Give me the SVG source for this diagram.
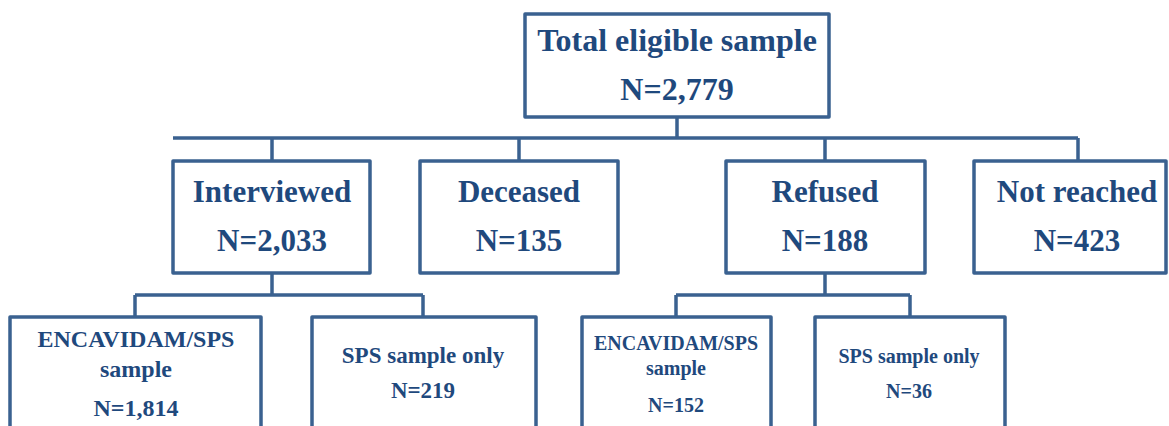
<svg xmlns="http://www.w3.org/2000/svg" width="1169" height="426" viewBox="0 0 1169 426">
  <style>
    .box { fill: #ffffff; stroke: #3a6190; stroke-width: 3.5; stroke-linejoin: round; }
    .link { fill: none; stroke: #3a6190; stroke-width: 3.5; stroke-linejoin: round; }
    text { font-family: "Liberation Serif", "Times New Roman", serif; font-weight: bold; fill: #1f497d; text-anchor: middle; }
    .t1 { font-size: 32px; }
    .t2 { font-size: 31px; }
    .t3 { font-size: 23px; }
    .t4 { font-size: 20px; }
  </style>
  <rect width="1169" height="426" fill="#ffffff"/>

  <g id="connectors">
    <path class="link" d="M677,117 V138 M173,138 H1078 M272,138 V161 M519,138 V161 M825,138 V161 M1078,138 V161"/>
    <path class="link" d="M272,273 V295 M135,295 H423 M135,295 V317 M423,295 V317"/>
    <path class="link" d="M825,273 V295 M676,295 H910 M676,295 V317 M910,295 V317"/>
  </g>

  <g id="total">
    <rect class="box" x="525" y="14" width="304" height="103"/>
    <text class="t1" x="677" y="51">Total eligible sample</text>
    <text class="t1" x="677" y="100">N=2,779</text>
  </g>

  <g id="interviewed">
    <rect class="box" x="173" y="161" width="197" height="112"/>
    <text class="t2" x="272" y="202">Interviewed</text>
    <text class="t2" x="272" y="251">N=2,033</text>
  </g>

  <g id="deceased">
    <rect class="box" x="420" y="161" width="198" height="112"/>
    <text class="t2" x="519" y="202">Deceased</text>
    <text class="t2" x="519" y="251">N=135</text>
  </g>

  <g id="refused">
    <rect class="box" x="726" y="161" width="199" height="112"/>
    <text class="t2" x="825" y="202">Refused</text>
    <text class="t2" x="825" y="251">N=188</text>
  </g>

  <g id="not-reached">
    <rect class="box" x="974" y="161" width="192" height="112"/>
    <text class="t2" x="1077" y="202">Not reached</text>
    <text class="t2" x="1077" y="251">N=423</text>
  </g>

  <g id="interviewed-encavidam">
    <rect class="box" x="10" y="317" width="251" height="130"/>
    <text class="t3" x="136" y="347" style="font-size:24px">ENCAVIDAM/SPS</text>
    <text class="t3" x="136" y="377" style="font-size:24px">sample</text>
    <text class="t3" x="136" y="416" style="font-size:24px">N=1,814</text>
  </g>

  <g id="interviewed-sps">
    <rect class="box" x="312" y="317" width="224" height="130"/>
    <text class="t3" x="423" y="363">SPS sample only</text>
    <text class="t3" x="423" y="398">N=219</text>
  </g>

  <g id="refused-encavidam">
    <rect class="box" x="582" y="317" width="189" height="130"/>
    <text class="t4" x="676" y="350">ENCAVIDAM/SPS</text>
    <text class="t4" x="676" y="375">sample</text>
    <text class="t4" x="676" y="412">N=152</text>
  </g>

  <g id="refused-sps">
    <rect class="box" x="815" y="317" width="190" height="130"/>
    <text class="t4" x="909" y="363">SPS sample only</text>
    <text class="t4" x="909" y="398">N=36</text>
  </g>
</svg>
